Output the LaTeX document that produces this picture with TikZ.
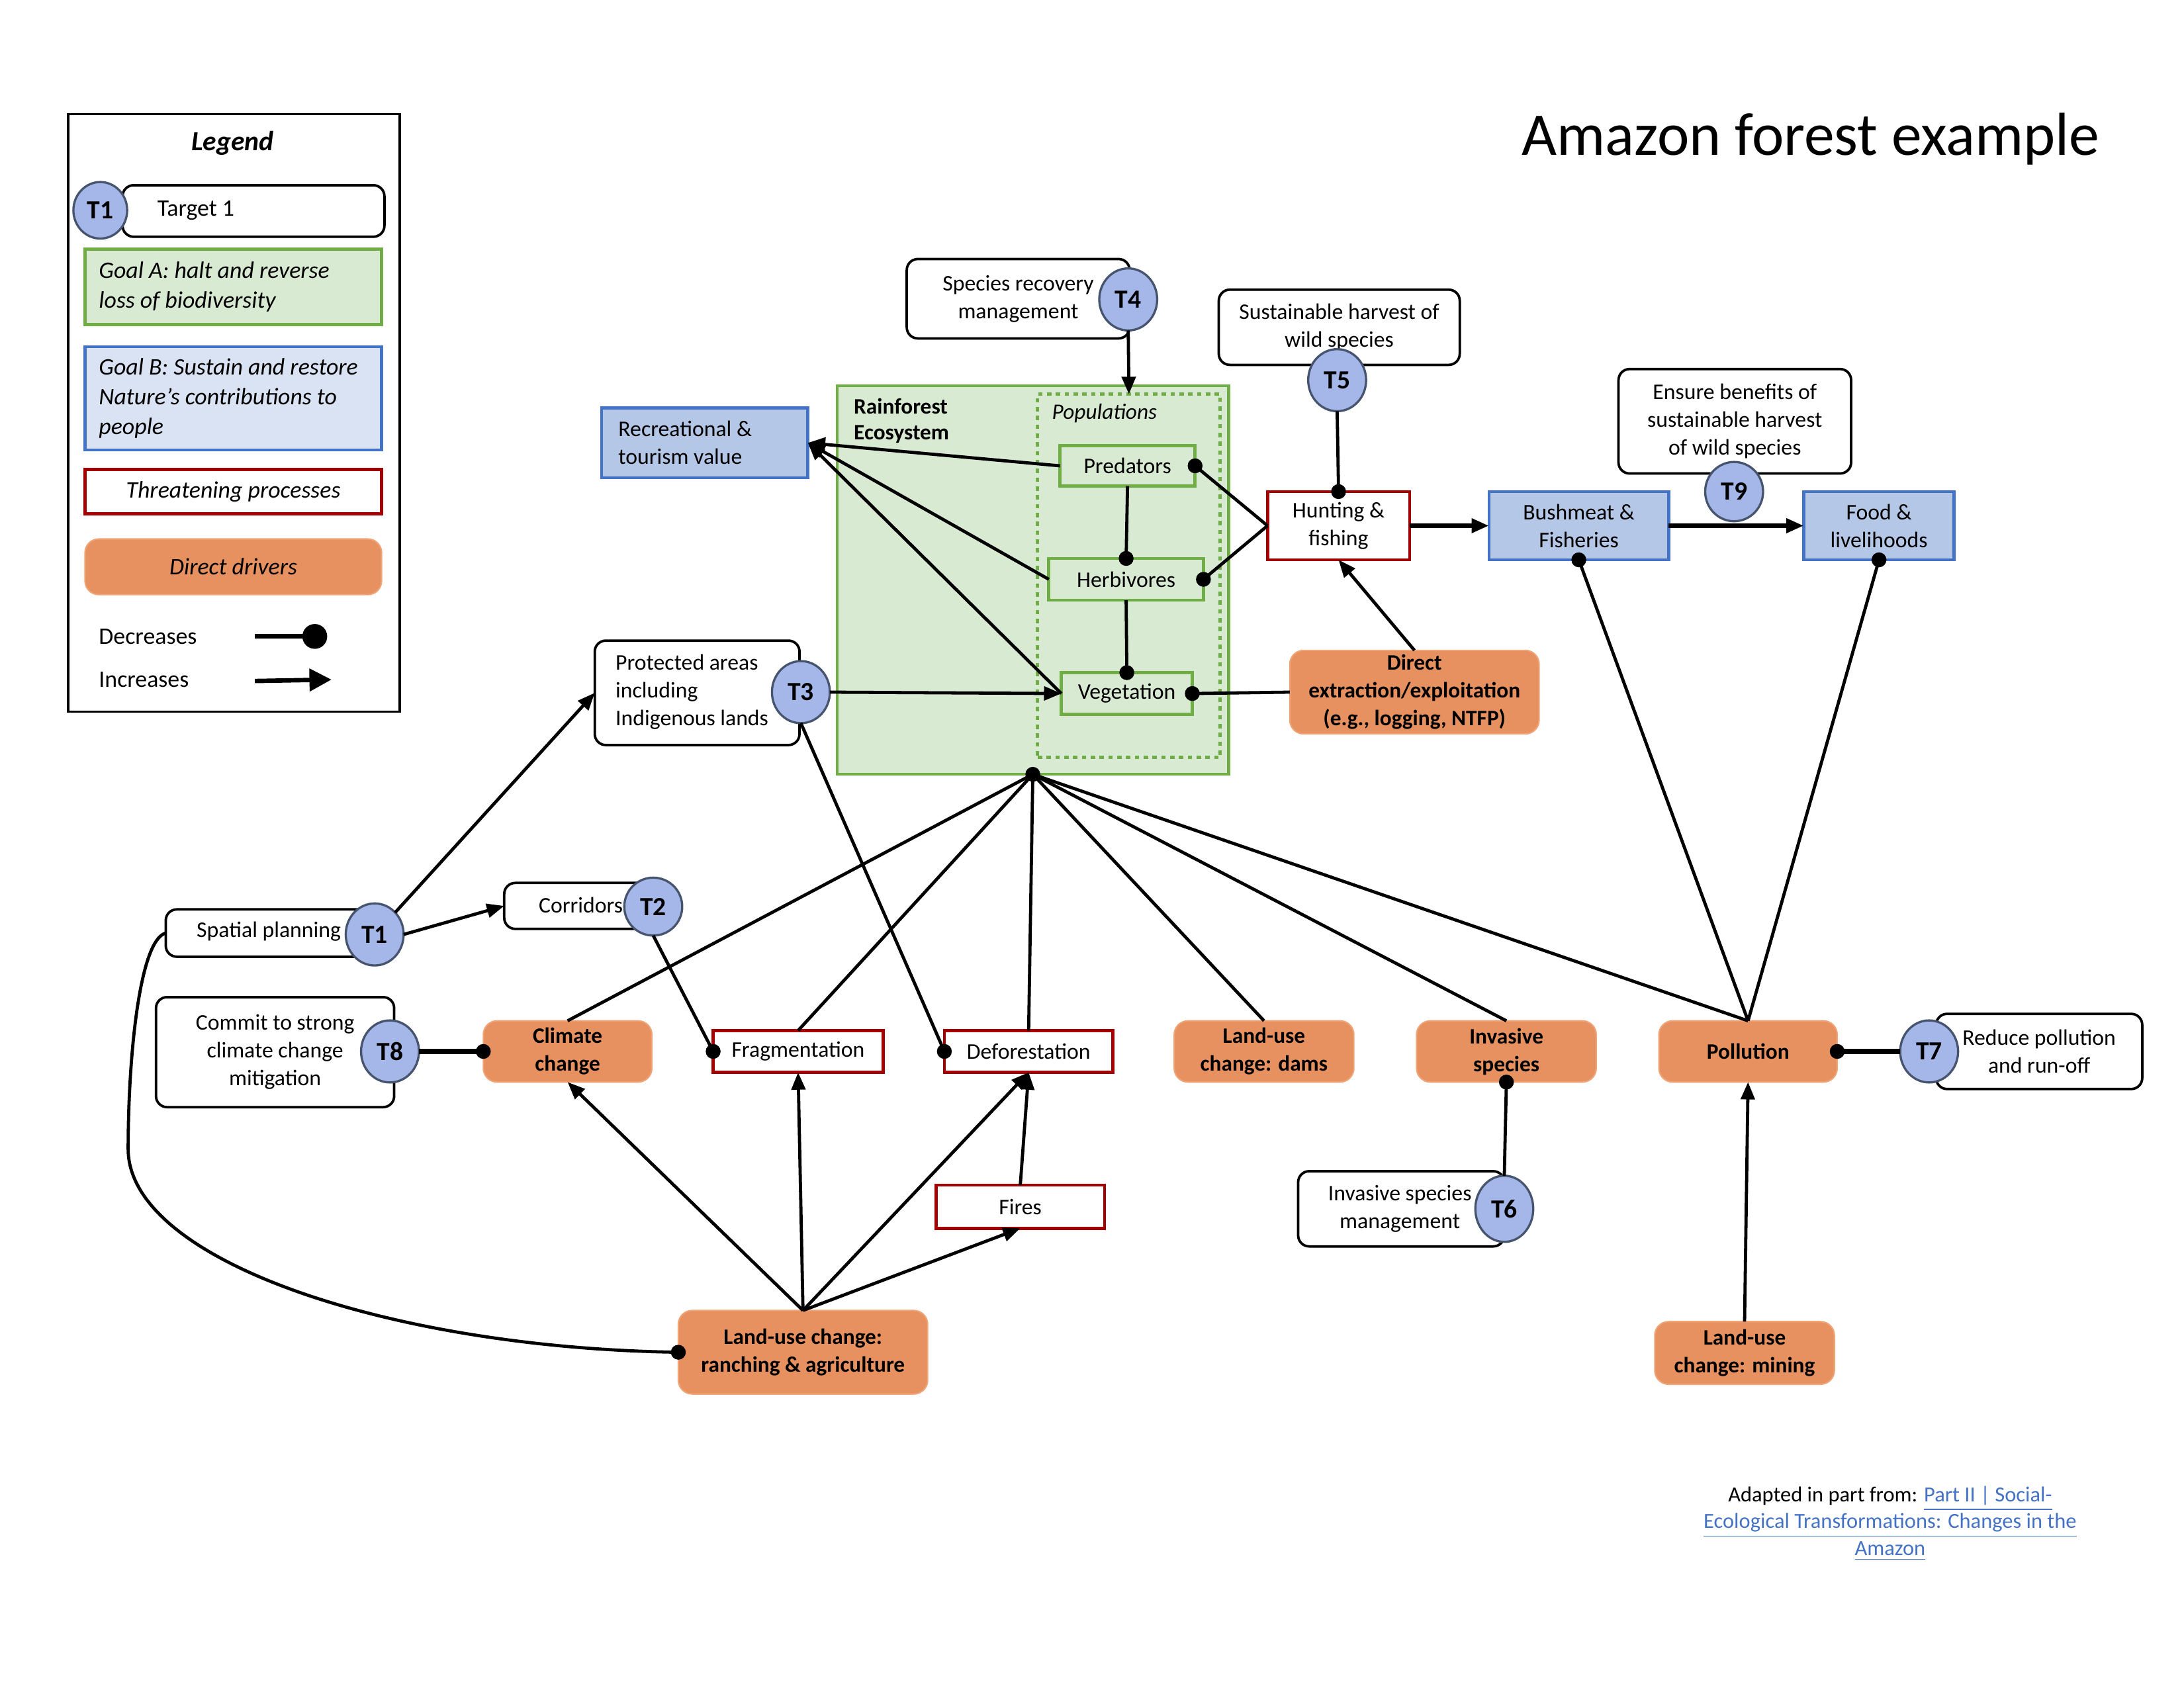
\documentclass[tikz,border=0pt]{standalone}
\usepackage{fontspec}
\setmainfont{Carlito}
\usetikzlibrary{arrows.meta,shapes.geometric}
\definecolor{grn}{RGB}{112,173,71}
\definecolor{grnfill}{RGB}{217,234,211}
\definecolor{blu}{RGB}{68,114,196}
\definecolor{blufill}{RGB}{180,199,231}
\definecolor{blulite}{RGB}{218,227,243}
\definecolor{redb}{RGB}{165,0,0}
\definecolor{orn}{RGB}{230,145,95}
\definecolor{ornl}{RGB}{240,165,120}
\definecolor{tfill}{RGB}{164,183,232}
\definecolor{tdraw}{RGB}{70,84,110}
\definecolor{lnk}{RGB}{68,114,196}
\newcommand\mybox[7]{\node[#2,minimum width={(#5-#3)*0.5051pt},minimum height={(#6-#4)*0.5051pt}] (#1) at ({(#3+#5)/2},{(#4+#6)/2}) {#7};}
\tikzset{
  base/.style={inner sep=0pt, outer sep=0pt, align=center, font=\fontsize{8.1}{10.1}\selectfont},
  legf/.style={inner sep=0pt, outer sep=0pt, align=left, font=\fontsize{8.6}{10.8}\selectfont},
  wbox/.style={base, draw=black, fill=white, line width=0.9pt, rounded corners=4pt},
  gbox/.style={base, draw=grn, fill=grnfill, line width=1.1pt},
  bbox/.style={base, draw=blu, fill=blufill, line width=1.1pt},
  rbox/.style={base, draw=redb, fill=white, line width=1.1pt},
  obox/.style={base, fill=orn, draw=ornl, line width=0.5pt, rounded corners=5pt, font=\bfseries\fontsize{8}{10.1}\selectfont},
  popbox/.style={base, draw=grn, line width=1.2pt, dash pattern=on 1.6pt off 1.6pt},
  tcirc/.style={ellipse, draw=tdraw, fill=tfill, line width=0.8pt, inner sep=0pt, outer sep=0pt, minimum width=21pt, minimum height=22.5pt, font=\bfseries\fontsize{9.5}{10}\selectfont},
  ln/.style={line width=1.15pt, draw=black},
  inc/.style={ln, -{Triangle[length=6.3pt,width=5pt]}},
  dotm/.style={circle, fill=black, inner sep=0pt, outer sep=0pt, minimum size=5.4pt}
}
\begin{document}
\begin{tikzpicture}[x=0.5051pt,y=-0.5051pt]
\useasboundingbox (0,0) rectangle (1568,1212);

% ---------------- Legend ----------------
\mybox{leg}{base, draw=black, line width=0.8pt}{49}{82}{287}{511}{}
\node[base, font=\bfseries\itshape\fontsize{10}{12}\selectfont] (legt) at (167,103) {Legend};
\mybox{lt1box}{wbox}{88}{133}{276}{170}{}
\node[legf, anchor=west] (lt1txt) at (113,151) {Target 1};
\node[tcirc, minimum width=19.5pt, minimum height=20.5pt] (lt1) at (72,151) {T1};
\mybox{lga}{gbox}{61}{179}{274}{233}{}
\node[legf, anchor=west, font=\itshape\fontsize{8.6}{10.8}\selectfont] (lgat) at (71,206) {Goal A: halt and reverse\\loss of biodiversity};
\mybox{lgb}{base, draw=blu, fill=blulite, line width=1.1pt}{61}{249}{274}{323}{}
\node[legf, anchor=west, font=\itshape\fontsize{8.6}{10.8}\selectfont] (lgbt) at (71,286) {Goal B: Sustain and restore\\Nature’s contributions to\\people};
\mybox{lthr}{rbox, font=\itshape\fontsize{8.6}{10.8}\selectfont}{61}{337}{274}{369}{Threatening processes}
\mybox{ldd}{obox, font=\itshape\fontsize{8.6}{10.8}\selectfont}{61}{387}{274}{427}{Direct drivers}
\node[legf, anchor=west] (ldec) at (71,457) {Decreases};
\node[legf, anchor=west] (linc) at (71,488) {Increases};
\coordinate (ld1) at (183,457);
\coordinate (ld2) at (226,457);
\coordinate (li1) at (183,489);
\coordinate (li2) at (238,488);
\draw[line width=1.6pt] (ld1) -- (ld2) node[dotm, minimum size=9pt]{};
\draw[line width=1.6pt, -{Triangle[length=8pt,width=8pt]}] (li1) -- (li2);

% ---------------- Title ----------------
\node[inner sep=0pt, font=\fontsize{22}{26}\selectfont] (title) at (1300,100) {Amazon forest example};

% ---------------- Boxes ----------------
\mybox{srm}{wbox}{651}{186}{811}{243}{Species recovery\\management}
\mybox{eco}{gbox}{601}{277}{882}{556}{}
\node[base, anchor=west, align=left, font=\bfseries\fontsize{8}{9.4}\selectfont] (ecot) at (613,302) {Rainforest\\Ecosystem};
\mybox{pop}{popbox}{745}{283}{876}{544}{}
\node[base, font=\itshape\fontsize{8}{10}\selectfont] (popt) at (793,297) {Populations};
\mybox{pred}{gbox}{761}{320}{858}{349}{Predators}
\mybox{herb}{gbox}{753}{401}{864}{431}{Herbivores}
\mybox{veg}{gbox}{762}{483}{856}{513}{Vegetation}
\mybox{rec}{bbox}{432}{293}{580}{343}{}
\node[base, anchor=west, align=left] (rect) at (444,318) {Recreational \&\\tourism value};
\mybox{hunt}{rbox}{910}{353}{1012}{402}{Hunting \&\\fishing}
\mybox{sh}{wbox}{875}{208}{1048}{262}{Sustainable harvest of\\wild species}
\mybox{bush}{bbox}{1069}{353}{1198}{402}{Bushmeat \&\\Fisheries}
\mybox{eb}{wbox}{1162}{265}{1329}{340}{Ensure benefits of\\sustainable harvest\\of wild species}
\mybox{food}{bbox}{1295}{353}{1403}{402}{Food \&\\livelihoods}
\mybox{dex}{obox}{926}{467}{1105}{527}{Direct\\extraction/exploitation\\(e.g., logging, NTFP)}
\mybox{prot}{wbox}{427}{460}{574}{535}{}
\node[base, anchor=west, align=left] (prott) at (442,497) {Protected areas\\including\\Indigenous lands};
\mybox{sp}{wbox}{119}{653}{270}{687}{}
\node[base] (spt) at (193,669) {Spatial planning};
\mybox{corr}{wbox}{362}{634}{470}{667}{}
\node[base] (corrt) at (417,650) {Corridors};
\mybox{commit}{wbox}{112}{716}{283}{795}{Commit to strong\\climate change\\mitigation}
\mybox{clim}{obox}{347}{733}{468}{777}{Climate\\change}
\mybox{frag}{rbox}{512}{740}{634}{770}{Fragmentation}
\mybox{defor}{rbox}{678}{740}{799}{770}{Deforestation}
\mybox{dams}{obox}{843}{733}{972}{777}{Land-use\\change: dams}
\mybox{inv}{obox}{1017}{733}{1146}{777}{Invasive\\species}
\mybox{poll}{obox}{1191}{733}{1319}{777}{Pollution}
\mybox{rp}{wbox}{1390}{728}{1538}{782}{}
\node[base] (rpt) at (1464,755) {Reduce pollution\\and run-off};
\mybox{ism}{wbox}{932}{841}{1080}{895}{}
\node[base] (ismt) at (1005,868) {Invasive species\\management};
\mybox{fires}{rbox}{672}{851}{793}{882}{Fires}
\mybox{ranch}{obox}{487}{941}{666}{1001}{Land-use change:\\ranching \& agriculture}
\mybox{mining}{obox}{1188}{949}{1317}{994}{Land-use\\change: mining}

% ---------------- Target circles ----------------
\node[tcirc] (t4) at (810,215) {T4};
\node[tcirc] (t5) at (960,273) {T5};
\node[tcirc] (t3) at (575,497) {T3};
\node[tcirc] (t1) at (269,671) {T1};
\node[tcirc, minimum height=21pt] (t2) at (469,651) {T2};
\node[tcirc] (t8) at (280,755) {T8};
\node[tcirc] (t7) at (1385,755) {T7};
\node[tcirc, minimum height=24pt] (t6) at (1080,868) {T6};

% ---------------- Connectors ----------------
\draw[inc] (t4.south) -- (pop.north);
\draw[ln] (pred.south) -- (herb.north) node[dotm]{};
\draw[ln] (herb.south) -- (veg.north) node[dotm]{};
\draw[inc] (pred.west) -- (rec.east);
\draw[inc] (herb.west) -- (rec.east);
\draw[inc] (veg.west) -- (rec.east);
\draw[ln] (hunt.west) -- (pred.east) node[dotm]{};
\draw[ln] (hunt.west) -- (herb.east) node[dotm]{};
\draw[ln] (t5.south) -- (hunt.north) node[dotm]{};
\draw[inc, line width=1.8pt] (hunt.east) -- (bush.west);
\draw[inc, line width=1.8pt] (bush.east) -- (food.west);
\draw[inc] (dex.north) -- (hunt.south);
\draw[ln] (dex.west) -- (veg.east) node[dotm]{};
\draw[inc] (t3.east) -- (veg.west);
\draw[ln] (t3.south) -- (defor.west) node[dotm]{};
\draw[inc] (t1.north east) -- (prot.west);
\draw[inc] (t1.east) -- (corr.west);
\draw[ln] (t2.south) -- (frag.west) node[dotm]{};
\draw[ln, line width=1.8pt] (t8.east) -- (clim.west) node[dotm]{};
\draw[ln, line width=1.8pt] (t7.west) -- (poll.east) node[dotm]{};
\draw[ln] (t6.north) -- (inv.south) node[dotm]{};
\draw[ln] (sp.west) .. controls (100,675) and (92,760) .. (92,825) .. controls (92,905) and (280,968) .. (ranch.west) node[dotm]{};
\foreach \n in {clim,frag,defor,dams,inv,poll}{
  \draw[ln] (\n.north) -- (eco.south);
}
\node[dotm] (ecodot) at (eco.south) {};
\draw[ln] (poll.north) -- (bush.south) node[dotm]{};
\draw[ln] (poll.north) -- (food.south) node[dotm]{};
\draw[inc] (ranch.north) -- (clim.south);
\draw[inc] (ranch.north) -- (frag.south);
\draw[inc] (ranch.north) -- (defor.south);
\draw[inc] (ranch.north) -- (fires.south);
\draw[inc] (fires.north) -- (defor.south);
\draw[inc] (mining.north) -- (poll.south);

\node[tcirc, minimum height=21.5pt] (t9) at (1245,353) {T9};

% ---------------- Footnote ----------------
\node[inner sep=0pt, align=center, font=\fontsize{7.8}{9.7}\selectfont] (foot) at (1357,1094)
  {Adapted in part from: \textcolor{lnk}{\underline{Part II | Social-}}\\
   \textcolor{lnk}{\underline{Ecological Transformations: Changes in the}}\\
   \textcolor{lnk}{\underline{Amazon}}};
\end{tikzpicture}
\end{document}
